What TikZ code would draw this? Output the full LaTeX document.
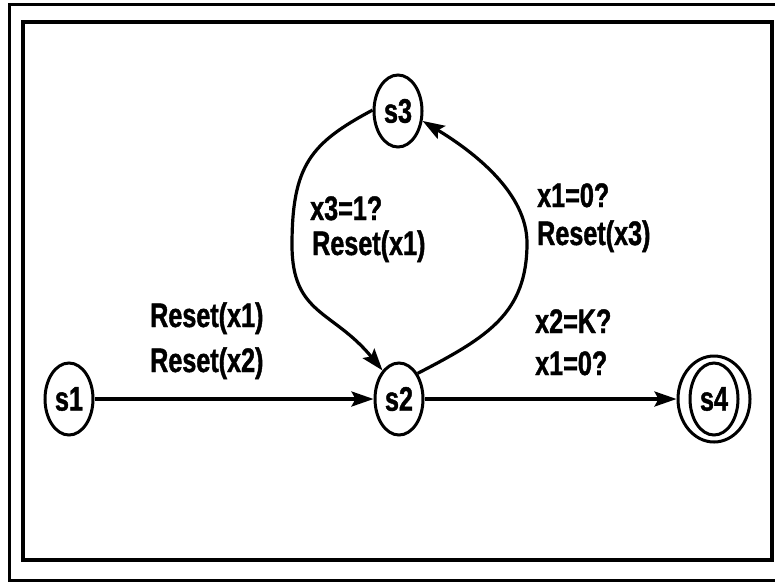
\documentclass[tikz,border=0pt]{standalone}
\usepackage{fontspec}
\setmainfont{Liberation Sans}[FakeStretch=0.74, BoldFeatures={FakeBold=1.2}]
\usepackage{tikz}
\usetikzlibrary{positioning}
\usetikzlibrary{shapes.geometric}
\usetikzlibrary{arrows.meta}

\begin{document}
\begin{tikzpicture}[x=1pt, y=-1pt,
    loc/.style={draw, ellipse, line width=3pt, inner sep=0pt, minimum width=48pt, minimum height=72pt, font=\bfseries\fontsize{34}{40}\selectfont},
    edge/.style={line width=3.2pt, -{Stealth[length=22pt, width=15pt, inset=4pt]}},
    lbl/.style={anchor=base west, inner sep=0pt, font=\bfseries\fontsize{34}{40}\selectfont}]
    \useasboundingbox (0,0) rectangle (775,582);

    % frame
    \draw[line width=3pt] (9,4) rectangle (795,580);
    \draw[line width=4pt] (23,22) rectangle (772,560);

    % locations
    \node[loc] (s1) at (69,399) {s1};
    \node[loc] (s2) at (399,399) {s2};
    \node[loc] (s3) at (398,111) {s3};
    \node[loc] (s4) at (714,399) {s4};
    \node[draw, ellipse, line width=3pt, minimum width=72pt, minimum height=86pt] (s4o) at (s4) {};

    % transitions
    \draw[edge] (s1) -- (s2);
    \draw[edge] (s2) -- (s4o);
    \draw[edge] (s3.178) .. controls (311,143) and (292,165) .. (292,245)
        .. controls (292,315) and (333,310) .. (s2.120);
    \draw[edge] (s2.54) .. controls (488,337) and (527,313) .. (527,243)
        .. controls (527,193) and (474,152) .. (s3.-22);

    % guards and resets
    \node[lbl] (r1) at (150,327) {Reset(x1)};
    \node[lbl] (r2) at (150,372) {Reset(x2)};
    \node[lbl] (g3) at (310,220) {x3=1?};
    \node[lbl] (r3) at (312,255) {Reset(x1)};
    \node[lbl] (g1) at (537,207) {x1=0?};
    \node[lbl] (r4) at (537,245) {Reset(x3)};
    \node[lbl] (g2) at (535,333) {x2=K?};
    \node[lbl] (g4) at (535,375) {x1=0?};
\end{tikzpicture}
\end{document}
